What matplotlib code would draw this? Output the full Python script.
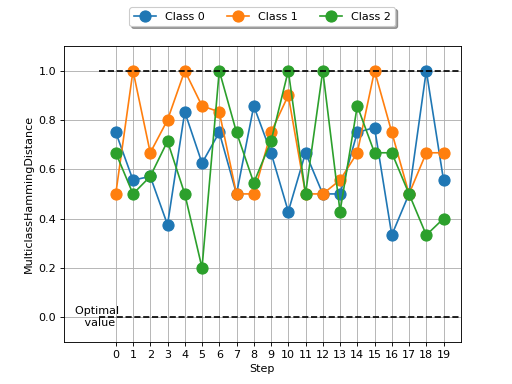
import matplotlib
matplotlib.use("Agg")
import matplotlib.pyplot as plt
import numpy as np

steps = list(range(20))
class0 = [0.75, 0.556, 0.571, 0.375, 0.833, 0.625, 0.75, 0.5, 0.857, 0.667,
          0.4286, 0.667, 0.5, 0.5, 0.75, 0.769, 0.333, 0.5, 1.0, 0.556]
class1 = [0.5, 1.0, 0.667, 0.8, 1.0, 0.857, 0.833, 0.5, 0.5, 0.75,
          0.9, 0.5, 0.5, 0.556, 0.667, 1.0, 0.75, 0.5, 0.667, 0.667]
class2 = [0.667, 0.5, 0.571, 0.714, 0.5, 0.2, 1.0, 0.75, 0.545, 0.714,
          1.0, 0.5, 1.0, 0.4286, 0.857, 0.667, 0.667, 0.5, 0.333, 0.4]
series = {"Class 0": class0, "Class 1": class1, "Class 2": class2}
lower_bound, upper_bound, optimal = 0.0, 1.0, 0.0

fig, ax = plt.subplots(figsize=(6.4, 4.8), dpi=80)
for name, vals in series.items():
    ax.plot(steps, vals, marker="o", markersize=10, label=name)

ax.hlines([lower_bound, upper_bound], -1, 20, linestyles="dashed", colors="k")
ax.text(-1, optimal, "Optimal \n value", horizontalalignment="center", verticalalignment="center")
ax.set_xlim(-3, 20)
ax.set_ylim(-0.1, 1.1)
ax.set_xticks(steps)
ax.set_xlabel("Step")
ax.set_ylabel("MulticlassHammingDistance")
ax.grid(True)
ax.legend(loc="upper center", bbox_to_anchor=(0.5, 1.15), ncol=3, fancybox=True, shadow=True)
fig.savefig("out.png", dpi=80)
